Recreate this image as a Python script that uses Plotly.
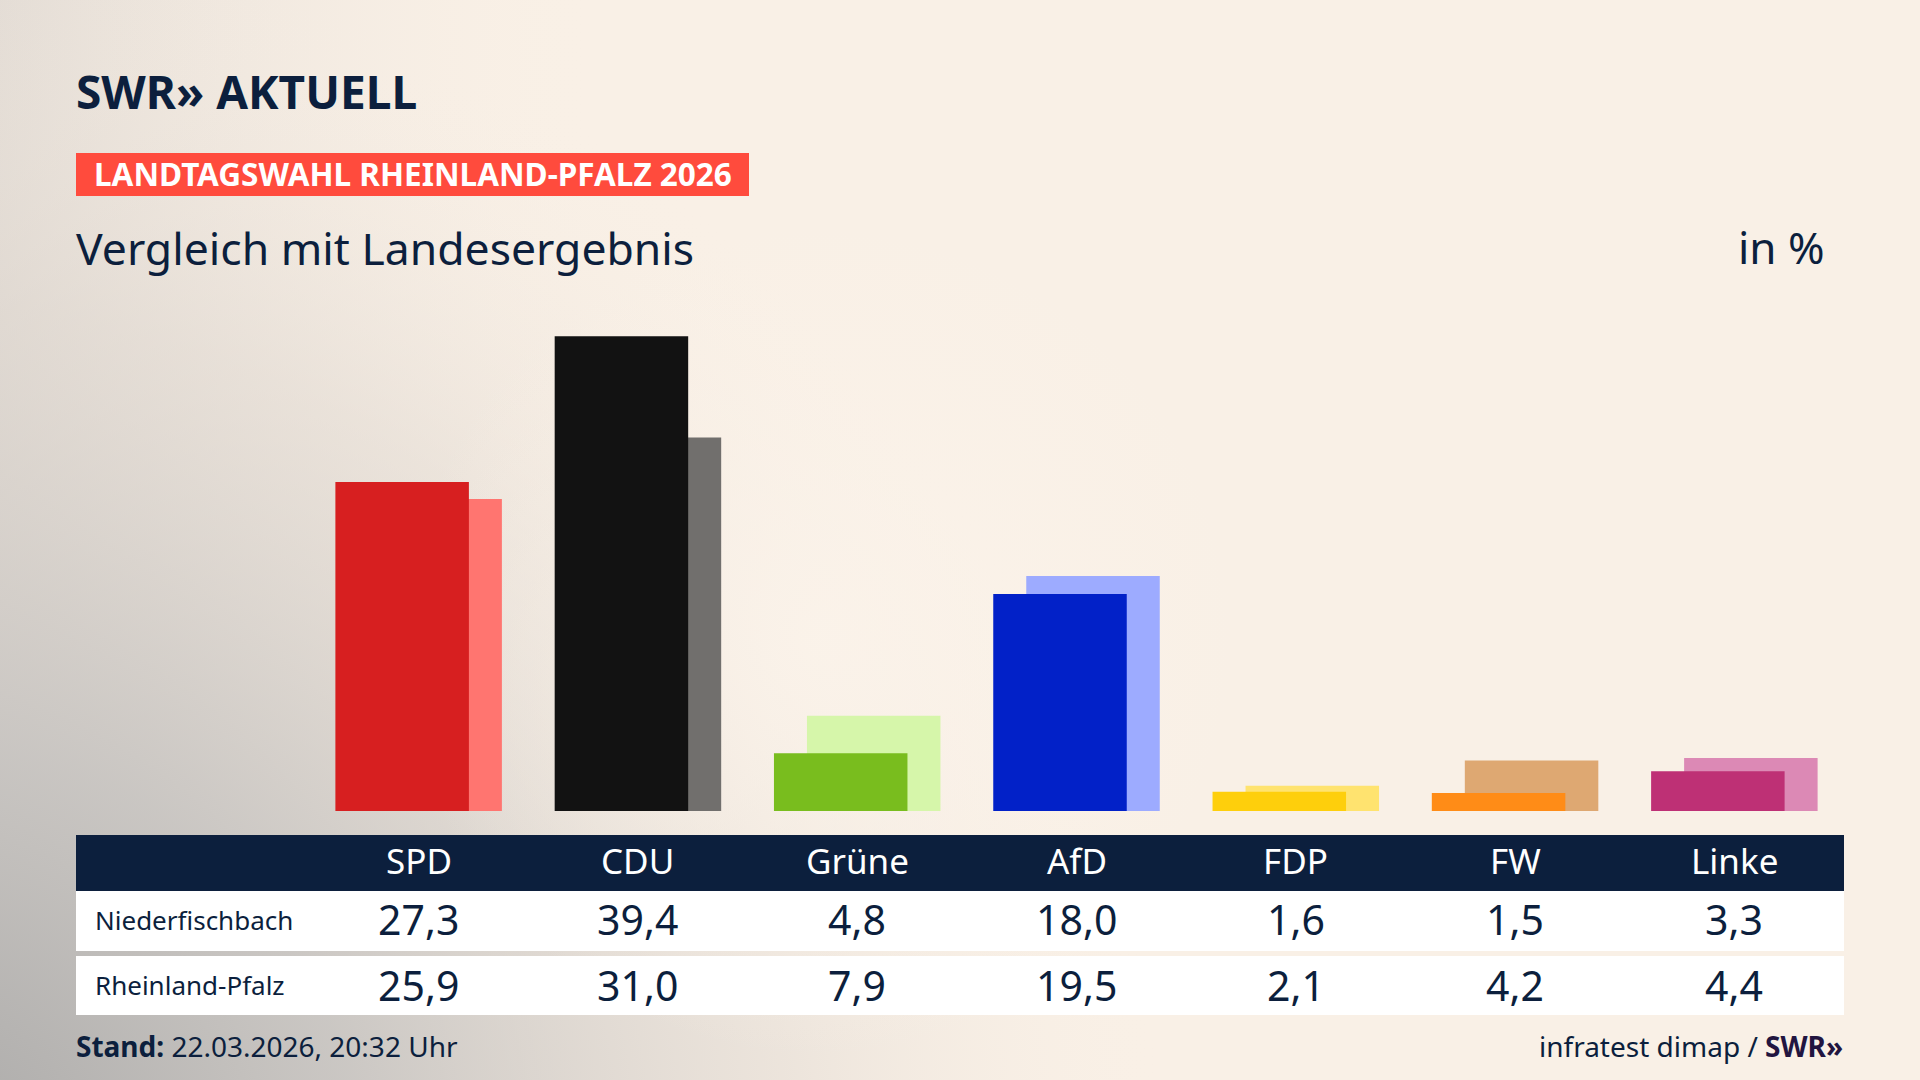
import base64
import plotly.graph_objects as go

# ---------------- data ----------------
parties = ["SPD", "CDU", "Grüne", "AfD", "FDP", "FW", "Linke"]
local_label = "Niederfischbach"
state_label = "Rheinland-Pfalz"
local_values = [27.3, 39.4, 4.8, 18.0, 1.6, 1.5, 3.3]
state_values = [25.9, 31.0, 7.9, 19.5, 2.1, 4.2, 4.4]
local_colors = ["#d71f20", "#121212", "#79bd1e", "#0221c8", "#fecf0c", "#ff8c17", "#be3075"]
state_colors = ["#ff7570", "#716f6d", "#d6f6aa", "#9dabff", "#ffe36f", "#dea872", "#dc89b5"]

title_logo = "SWR» AKTUELL"
banner_text = "LANDTAGSWAHL RHEINLAND-PFALZ 2026"
subtitle = "Vergleich mit Landesergebnis"
unit_text = "in %"
stand_text = "<b>Stand:</b> 22.03.2026, 20:32 Uhr"
source_text = "infratest dimap / "
source_logo = "SWR»"

# ---------------- layout constants (pixels) ----------------
W, H = 1920, 1080
NAVY = "#0c1f3d"
CREAM = "#f9f0e6"
FONT = "Noto Sans, Open Sans, DejaVu Sans, sans-serif"


def X(px):
    return px / W


def Y(py):
    return 1 - py / H


plot_left, plot_right = 309, 1844
bar_bottom = 811
px_per_pct = 12.05
y_max = 45
plot_top = bar_bottom - y_max * px_per_pct
cat_px = (plot_right - plot_left) / len(parties)
bar_w = 133.5 / cat_px
front_off = -83.25 / cat_px
back_off = -50.25 / cat_px

# ---------------- background (SVG gradient) ----------------
svg = f"""<svg xmlns='http://www.w3.org/2000/svg' width='{W}' height='{H}' viewBox='0 0 {W} {H}'>
<defs>
<radialGradient id='g1' cx='-80' cy='1180' r='1250' gradientUnits='userSpaceOnUse'>
<stop offset='0' stop-color='#a8a7a6' stop-opacity='1'/>
<stop offset='0.35' stop-color='#c6c3c0' stop-opacity='0.9'/>
<stop offset='0.7' stop-color='#ddd6cf' stop-opacity='0.45'/>
<stop offset='1' stop-color='#f9f0e6' stop-opacity='0'/>
</radialGradient>
<linearGradient id='g2' x1='0' y1='0' x2='600' y2='0' gradientUnits='userSpaceOnUse'>
<stop offset='0' stop-color='#d9d3cd' stop-opacity='0.7'/>
<stop offset='1' stop-color='#f9f0e6' stop-opacity='0'/>
</linearGradient>
<radialGradient id='g3' cx='820' cy='640' r='420' gradientUnits='userSpaceOnUse'>
<stop offset='0' stop-color='#fbf3ea' stop-opacity='0.9'/>
<stop offset='1' stop-color='#fbf3ea' stop-opacity='0'/>
</radialGradient>
</defs>
<rect width='{W}' height='{H}' fill='{CREAM}'/>
<rect width='{W}' height='{H}' fill='url(#g2)'/>
<rect width='{W}' height='{H}' fill='url(#g1)'/>
<rect width='{W}' height='{H}' fill='url(#g3)'/>
</svg>"""
bg_src = "data:image/svg+xml;base64," + base64.b64encode(svg.encode()).decode()

fig = go.Figure()

fig.add_trace(go.Bar(
    x=parties, y=state_values, name=state_label,
    marker=dict(color=state_colors, line=dict(width=0)),
    width=bar_w, offset=back_off, hoverinfo="skip",
))
fig.add_trace(go.Bar(
    x=parties, y=local_values, name=local_label,
    marker=dict(color=local_colors, line=dict(width=0)),
    width=bar_w, offset=front_off, hoverinfo="skip",
))

shapes = [
    # banner
    dict(type="rect", xref="paper", yref="paper", x0=X(76), x1=X(749), y0=Y(196), y1=Y(153),
         fillcolor="#ff4b3d", line=dict(width=0), layer="below"),
    # table header
    dict(type="rect", xref="paper", yref="paper", x0=X(76), x1=X(1844), y0=Y(891), y1=Y(835),
         fillcolor=NAVY, line=dict(width=0), layer="below"),
    # row 1
    dict(type="rect", xref="paper", yref="paper", x0=X(76), x1=X(1844), y0=Y(951), y1=Y(891),
         fillcolor="#ffffff", line=dict(width=0), layer="below"),
    # row 2
    dict(type="rect", xref="paper", yref="paper", x0=X(76), x1=X(1844), y0=Y(1015), y1=Y(956),
         fillcolor="#ffffff", line=dict(width=0), layer="below"),
]

ann = []


def text(x, y, s, size, color=NAVY, xanchor="left", xref="paper", bold=False):
    ann.append(dict(x=x, y=y, xref=xref, yref="paper", text=s, showarrow=False,
                    xanchor=xanchor, yanchor="middle",
                    font=dict(family=FONT, size=size, color=color,
                              weight="bold" if bold else "normal")))


text(X(74), Y(91), title_logo, 46, bold=True)
text(X(92), Y(174), banner_text, 31.5, color="#ffffff", bold=True)
text(X(74), Y(247), subtitle, 44.5)
text(X(1827), Y(247), unit_text, 44, xanchor="right")

for i, p in enumerate(parties):
    text(p, Y(860), p, 35, color="#ffffff", xanchor="center", xref="x")
    text(p, Y(919), f"{local_values[i]:.1f}".replace(".", ","), 41, xanchor="center", xref="x")
    text(p, Y(985), f"{state_values[i]:.1f}".replace(".", ","), 41, xanchor="center", xref="x")

text(X(93), Y(920), local_label, 26)
text(X(93), Y(985), state_label, 26)

text(X(74), Y(1046), stand_text, 28)
text(X(1845), Y(1046),
     source_text + f"<b><span style='color:#221540'>{source_logo}</span></b>", 28,
     xanchor="right")

fig.update_layout(
    width=W, height=H, autosize=False,
    margin=dict(l=0, r=0, t=0, b=0, pad=0),
    paper_bgcolor=CREAM, plot_bgcolor="rgba(0,0,0,0)",
    barmode="overlay", showlegend=False,
    xaxis=dict(domain=[X(plot_left), X(plot_right)], range=[-0.5, len(parties) - 0.5],
               type="category", visible=False, fixedrange=True),
    yaxis=dict(domain=[Y(bar_bottom), Y(plot_top)], range=[0, y_max], visible=False,
               fixedrange=True),
    shapes=shapes, annotations=ann,
    images=[dict(source=bg_src, xref="paper", yref="paper", x=0, y=1, sizex=1, sizey=1,
                 xanchor="left", yanchor="top", sizing="stretch", layer="below")],
    font=dict(family=FONT, color=NAVY),
)

fig.write_html("out.html", config={"displayModeBar": False, "staticPlot": True},
               post_script="document.body.style.margin='0';document.body.style.overflow='hidden';")
